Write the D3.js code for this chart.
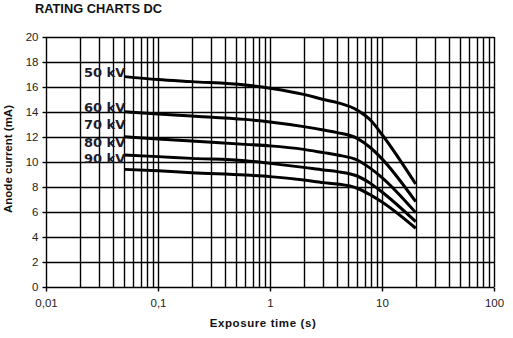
<!DOCTYPE html>
<html><head><meta charset="utf-8">
<script src="https://cdn.jsdelivr.net/npm/d3@7"></script>
<style>
html,body{margin:0;padding:0;background:#fff;}
svg{display:block;}
</style></head>
<body>
<svg id="chart" width="513" height="338"></svg>
<script>
const title = "RATING CHARTS DC";
const xTitle = "Exposure time (s)";
const yTitle = "Anode current (mA)";
const times = [0.05, 0.1, 0.2, 0.6, 1, 2, 3, 4, 6, 8, 10, 20];
const seriesNames = ["50 kV", "60 kV", "70 kV", "80 kV", "90 kV"];
const kv50 = [16.83, 16.6, 16.43, 16.16, 15.9, 15.41, 15.0, 14.75, 14.15, 13.3, 12.2, 8.24];
const kv60 = [14.03, 13.84, 13.68, 13.41, 13.2, 12.83, 12.56, 12.35, 11.89, 11.1, 10.25, 6.83];
const kv70 = [12.03, 11.84, 11.68, 11.41, 11.29, 11.01, 10.75, 10.56, 10.16, 9.45, 8.75, 5.95];
const kv80 = [10.56, 10.43, 10.29, 10.1, 9.89, 9.57, 9.36, 9.23, 8.88, 8.25, 7.6, 5.23];
const kv90 = [9.41, 9.3, 9.14, 8.96, 8.83, 8.56, 8.35, 8.24, 7.9, 7.33, 6.8, 4.7];
const labelAt = [16.8, 14.02, 12.62, 11.22, 9.9];
const xTickValues = [0.01, 0.1, 1, 10, 100];
const xTickLabels = ["0,01", "0,1", "1", "10", "100"];
const yTickValues = [0, 2, 4, 6, 8, 10, 12, 14, 16, 18, 20];

const series = [kv50, kv60, kv70, kv80, kv90];

const svg = d3.select("#chart");
const x = d3.scaleLog().domain([0.01, 100]).range([46, 494]);
const y = d3.scaleLinear().domain([0, 20]).range([287, 37]);

// minor + major vertical grid
const vgrid = [];
for (let d = 0.01; d < 100; d *= 10) {
  for (let k = 1; k <= 9; k++) vgrid.push(+(d * k).toPrecision(3));
}
vgrid.push(100);

const g = svg.append("g");
g.selectAll("line.v").data(vgrid).join("line")
  .attr("x1", d => Math.round(x(d)) + 0.5).attr("x2", d => Math.round(x(d)) + 0.5)
  .attr("y1", y(20)).attr("y2", y(0))
  .attr("stroke", "#000").attr("stroke-width", 1.4);
g.selectAll("line.h").data(yTickValues).join("line")
  .attr("x1", x(0.01)).attr("x2", x(100))
  .attr("y1", d => Math.round(y(d)) + 0.5).attr("y2", d => Math.round(y(d)) + 0.5)
  .attr("stroke", "#000").attr("stroke-width", 1.4);

// axes
const yAxis = d3.axisLeft(y).tickValues(yTickValues).tickSize(4).tickPadding(4);
const ya = svg.append("g").attr("transform", `translate(${Math.round(x(0.01)) + 0.5},0)`).call(yAxis);
ya.select(".domain").remove();
ya.selectAll("line").attr("stroke", "#000").attr("stroke-width", 1.4);
ya.selectAll("text").attr("font-family", "Liberation Sans, Arial, sans-serif").attr("font-size", 11.5).attr("fill", "#222");

const xAxis = d3.axisBottom(x).tickValues(xTickValues).tickFormat((d, i) => xTickLabels[i]).tickSize(4).tickPadding(7);
const xa = svg.append("g").attr("transform", `translate(0,${Math.round(y(0)) + 0.5})`).call(xAxis);
xa.select(".domain").remove();
xa.selectAll("line").attr("stroke", "#000").attr("stroke-width", 1.4);
xa.selectAll("text").attr("font-family", "Liberation Sans, Arial, sans-serif").attr("font-size", 11.5).attr("fill", "#222");

// curves
const line = d3.line().x(d => x(d[0])).y(d => y(d[1])).curve(d3.curveMonotoneX);
svg.append("g").selectAll("path").data(series).join("path")
  .attr("d", s => line(times.map((t, i) => [t, s[i]])))
  .attr("fill", "none").attr("stroke", "#000").attr("stroke-width", 3)
  .attr("stroke-linejoin", "round");

// series labels
svg.append("g").selectAll("text").data(seriesNames).join("text")
  .attr("x", x(times[0]) + 1).attr("y", (d, i) => y(labelAt[i]))
  .attr("text-anchor", "end")
  .attr("font-family", "DejaVu Sans, Verdana, sans-serif").attr("font-weight", "bold")
  .attr("font-size", 13).attr("fill", "#1c1c2e")
  .text(d => d);

// titles
svg.append("text").attr("x", 35).attr("y", 13)
  .attr("font-family", "Liberation Sans, Arial, sans-serif").attr("font-weight", "bold")
  .attr("font-size", 12.8).attr("fill", "#111").text(title);
svg.append("text").attr("x", 263).attr("y", 327).attr("text-anchor", "middle")
  .attr("font-family", "Liberation Sans, Arial, sans-serif").attr("font-weight", "bold")
  .attr("font-size", 11.5).attr("letter-spacing", 0.6).attr("fill", "#111").text(xTitle);
svg.append("text").attr("transform", "translate(12,159) rotate(-90)").attr("text-anchor", "middle")
  .attr("font-family", "Liberation Sans, Arial, sans-serif").attr("font-weight", "bold")
  .attr("font-size", 11.5).attr("fill", "#111").text(yTitle);
</script>
</body></html>
